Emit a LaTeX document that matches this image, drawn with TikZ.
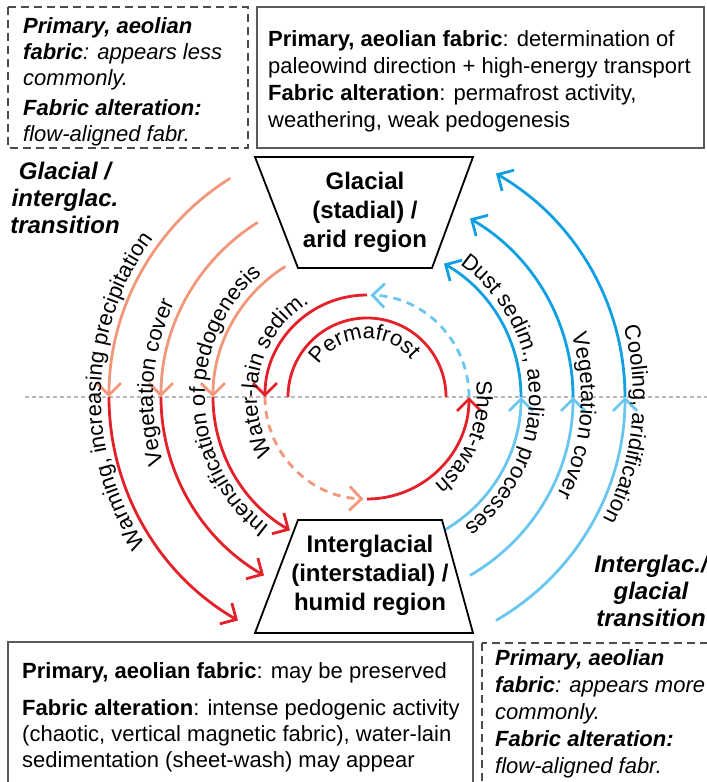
\documentclass[tikz,border=0pt]{standalone}
\usepackage{fontspec}
\setmainfont{Liberation Sans}
\usetikzlibrary{arrows.meta,decorations.text}
\definecolor{warmcol}{RGB}{242,152,122}
\definecolor{hotcol}{RGB}{228,32,40}
\definecolor{palecol}{RGB}{105,198,238}
\definecolor{coolcol}{RGB}{16,160,225}

\begin{document}
\begin{tikzpicture}[x=1pt,y=1pt,
	ring/.style={line width=2.8pt},
	flowtip/.style={ring, -{Straight Barb[length=12pt,width=24pt,line width=2.8pt]}},
	dashring/.style={dash pattern=on 8pt off 6pt},
	midline/.style={gray!55, line width=2pt, dash pattern=on 4pt off 3pt},
	solidbox/.style={draw=black!65, line width=1.3pt},
	dashbox/.style={draw=black!70, line width=1.2pt, dash pattern=on 8pt off 5pt},
	stagebox/.style={draw=black, line width=1.8pt},
	stage/.style={align=center, inner sep=0pt, font=\bfseries\fontsize{24}{29}\selectfont},
	boxtext/.style={anchor=north west, align=left, inner sep=0pt, font=\fontsize{22}{26}\selectfont},
	transitionlabel/.style={align=center, inner sep=0pt, font=\bfseries\itshape\fontsize{24}{27}\selectfont},
	arclabel/.style={decorate, decoration={text along path, text align=center, text={|\fontsize{22}{26}\selectfont|#1}}}]
	\clip (-367,-385) rectangle (340,397);
	\coordinate (c) at (0,0);
	\draw[midline] (-342,0) -- (340,0);

	\draw[dashbox] (-359,390) rectangle (-119,249);
	\draw[solidbox] (-110,390) rectangle (337,249);
	\draw[solidbox] (-359,-245) rectangle (106,-400);
	\draw[dashbox] (115,-246) rectangle (360,-400);

	\foreach \r in {154,206,258} {
		\draw[flowtip, warmcol] (122:\r) arc[start angle=122, end angle=180, radius=\r];
		\draw[flowtip, hotcol] (180:\r) arc[start angle=180, end angle=240, radius=\r];
		\draw[flowtip, palecol] (-60:\r) arc[start angle=-60, end angle=0, radius=\r];
		\draw[flowtip, coolcol] (0:\r) arc[start angle=0, end angle=60, radius=\r];
	}
	\draw[flowtip, hotcol] (90:102) arc[start angle=90, end angle=180, radius=102];
	\draw[flowtip, dashring, warmcol] (180:102) arc[start angle=180, end angle=268, radius=102];
	\draw[flowtip, hotcol] (270:102) arc[start angle=270, end angle=360, radius=102];
	\draw[flowtip, dashring, palecol] (0:102) arc[start angle=0, end angle=88, radius=102];
	\draw[ring, hotcol] (180:79) arc[start angle=180, end angle=0, radius=79];

	\path[arclabel={Permafrost}] (173:58) arc[start angle=173, end angle=13, radius=58];
	\path[arclabel={Water-lain sedim.}] (226:110) arc[start angle=226, end angle=106, radius=110];
	\path[arclabel={Intensification of pedogenesis}] (241.7:162) arc[start angle=241.7, end angle=121.7, radius=162];
	\path[arclabel={Vegetation cover}] (236:214) arc[start angle=236, end angle=116, radius=214];
	\path[arclabel={Warming, increasing precipitation}] (238.5:266) arc[start angle=238.5, end angle=118.5, radius=266];
	\path[arclabel={Sheet-wash}] (38:110) arc[start angle=38, end angle=-82, radius=110];
	\path[arclabel={Dust sedim., aeolian processes}] (61:162) arc[start angle=61, end angle=-59, radius=162];
	\path[arclabel={Vegetation cover}] (55:214) arc[start angle=55, end angle=-65, radius=214];
	\path[arclabel={Cooling, aridification}] (54:266) arc[start angle=54, end angle=-66, radius=266];

	\draw[stagebox, fill=white] (-112,240) -- (106,240) -- (65,129) -- (-69,129) -- cycle;
	\node[stage] (glacial) at (-2,185) {Glacial\\(stadial) /\\arid region};
	\draw[stagebox, fill=white] (-69,-123) -- (75,-123) -- (106,-236) -- (-112,-236) -- cycle;
	\node[stage] (interglacial) at (3,-178) {Interglacial\\(interstadial) /\\humid region};

	\node[boxtext, font=\itshape\fontsize{22}{26}\selectfont] (glacnote) at (-344,380) {\textbf{Primary, aeolian}\\\textbf{fabric}: appears less\\commonly.\\[4pt]\textbf{Fabric alteration:}\\flow-aligned fabr.};
	\node[boxtext, font=\fontsize{22}{27}\selectfont] (aridnote) at (-99,367) {\textbf{Primary, aeolian fabric}: determination of\\paleowind direction + high-energy transport\\\textbf{Fabric alteration}: permafrost activity,\\weathering, weak pedogenesis};
	\node[boxtext] (humidnote) at (-345,-265) {\textbf{Primary, aeolian fabric}: may be preserved\\[11pt]\textbf{Fabric alteration}: intense pedogenic activity\\(chaotic, vertical magnetic fabric), water-lain\\sedimentation (sheet-wash) may appear};
	\node[boxtext, font=\itshape\fontsize{22}{27}\selectfont] (interglacnote) at (128,-252) {\textbf{Primary, aeolian}\\\textbf{fabric}: appears more\\commonly.\\\textbf{Fabric alteration:}\\flow-aligned fabr.};

	\node[transitionlabel] (coldwarm) at (-302,199) {Glacial /\\interglac.\\transition};
	\node[transitionlabel] (warmcold) at (284,-194) {Interglac./\\glacial\\transition};
\end{tikzpicture}
\end{document}
